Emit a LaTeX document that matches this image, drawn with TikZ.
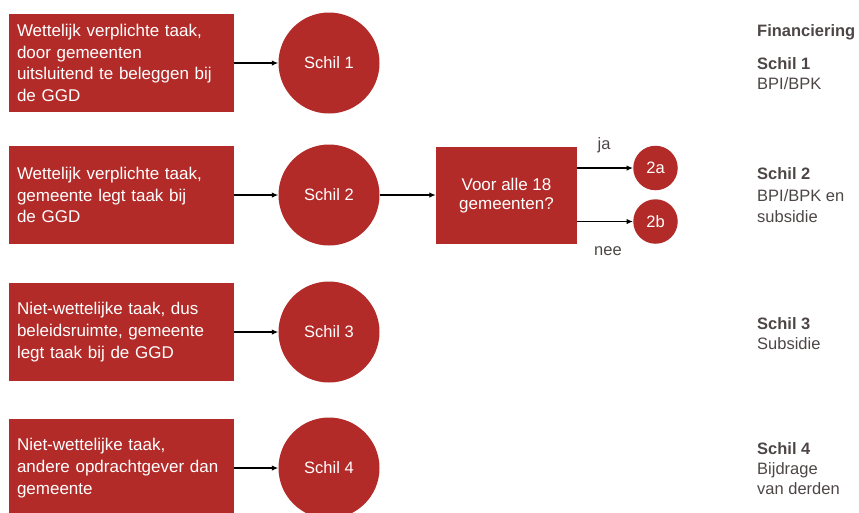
\documentclass[tikz,border=0pt]{standalone}
\usepackage{fontspec}
\setmainfont{Liberation Sans}
\usetikzlibrary{arrows.meta}
\definecolor{ggdred}{RGB}{178,43,40}
\definecolor{txtgray}{RGB}{78,70,70}
\tikzset{
  taskbox/.style={rectangle, fill=ggdred, text=white, minimum width=225pt, minimum height=98pt,
    text width=209pt, inner xsep=8pt, inner ysep=0pt, align=left,
    font=\fontsize{17}{21.7}\selectfont},
  shell/.style={circle, fill=ggdred, text=white, minimum size=101pt, inner sep=0pt,
    font=\fontsize{16.5}{20}\selectfont},
  smallshell/.style={circle, fill=ggdred, text=white, minimum size=44.5pt, inner sep=0pt,
    font=\fontsize{16.5}{20}\selectfont},
  decision/.style={rectangle, fill=ggdred, text=white, minimum width=141pt, minimum height=97pt,
    inner sep=0pt, align=center, font=\fontsize{17}{19}\selectfont},
  conn/.style={line width=1.4pt, -{Latex[length=6.5pt,width=5.5pt]}},
  lbl/.style={text=txtgray, inner sep=0pt, font=\fontsize{16.5}{20}\selectfont},
  fin/.style={text=txtgray, inner sep=0pt, anchor=base west, font=\fontsize{16.5}{20}\selectfont},
  finb/.style={fin, font=\fontsize{16.5}{20}\selectfont\bfseries},
}
\begin{document}
\begin{tikzpicture}[x=1pt,y=-1pt]
\useasboundingbox (0,0) rectangle (859,512);
\clip (0,0) rectangle (859,512);

% row 1
\node[taskbox] (b1) at (121.5,63) {Wettelijk verplichte taak,\\door gemeenten\\uitsluitend te beleggen bij\\de GGD};
\node[shell] (c1) at (329,63) {Schil 1};
\draw[conn] (b1) -- (c1);

% row 2
\node[taskbox] (b2) at (121.5,195) {Wettelijk verplichte taak,\\gemeente legt taak bij\\de GGD};
\node[shell] (c2) at (329,195) {Schil 2};
\draw[conn] (b2) -- (c2);
\node[decision] (d) at (506.5,195.5) {Voor alle 18\\gemeenten?};
\draw[conn] (c2) -- (c2 -| d.west);
\node[smallshell] (a2) at (655.5,168) {2a};
\node[smallshell] (b2c) at (655.5,221.5) {2b};
\draw[conn] (d.east |- a2) -- (a2.west);
\draw[conn] (d.east |- b2c) -- (b2c.west);
\node[lbl] (ja) at (604,145) {ja};
\node[lbl] (nee) at (608,251) {nee};

% row 3
\node[taskbox] (b3) at (121.5,332) {Niet-wettelijke taak, dus\\beleidsruimte, gemeente\\legt taak bij de GGD};
\node[shell] (c3) at (329,332) {Schil 3};
\draw[conn] (b3) -- (c3);

% row 4
\node[taskbox] (b4) at (121.5,468) {Niet-wettelijke taak,\\andere opdrachtgever dan\\gemeente};
\node[shell] (c4) at (329,468) {Schil 4};
\draw[conn] (b4) -- (c4);

% financing column
\node[finb] (f0) at (757,36) {Financiering};
\node[finb] (f1a) at (757,69) {Schil 1};
\node[fin] (f1b) at (757,89) {BPI/BPK};
\node[finb] (f2a) at (757,179) {Schil 2};
\node[fin] (f2b) at (757,201) {BPI/BPK en};
\node[fin] (f2c) at (757,222) {subsidie};
\node[finb] (f3a) at (757,329) {Schil 3};
\node[fin] (f3b) at (757,349) {Subsidie};
\node[finb] (f4a) at (757,454) {Schil 4};
\node[fin] (f4b) at (757,474) {Bijdrage};
\node[fin] (f4c) at (757,494) {van derden};
\end{tikzpicture}
\end{document}
